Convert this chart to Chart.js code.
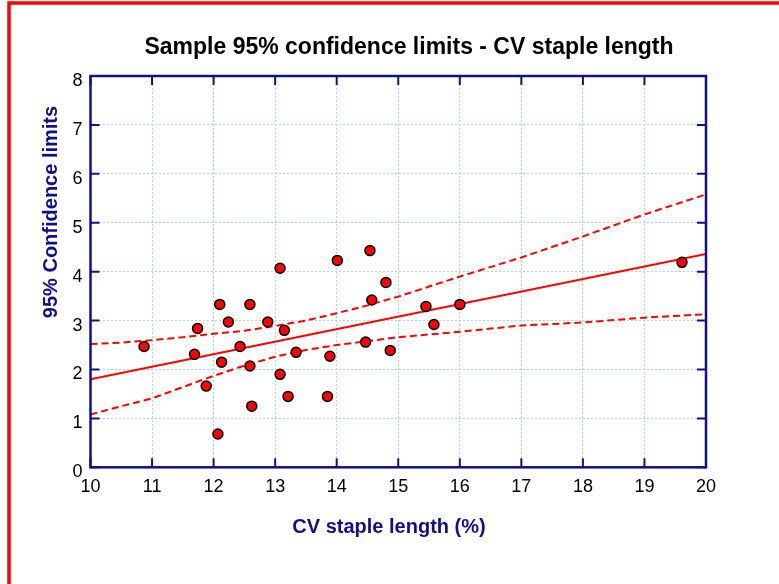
<!DOCTYPE html>
<html>
<head>
<meta charset="utf-8">
<script src="https://cdn.jsdelivr.net/npm/chart.js@4/dist/chart.umd.min.js"></script>
<style>
  body { margin: 0; background: #fff; }
  canvas { display: block; }
</style>
</head>
<body>
<canvas id="cvChart" width="779" height="584"></canvas>
<script>
// CV staple length (%) vs 95% confidence limit, one point per sample
const cvStaple = [10.87, 11.69, 11.74, 11.88, 12.10, 12.24, 12.13, 12.43, 12.07, 12.59,
  12.59, 12.62, 12.88, 13.08, 13.15, 13.08, 13.21, 13.34, 13.85, 13.89,
  14.01, 14.47, 14.54, 14.57, 14.80, 14.87, 15.45, 15.58, 16.00, 19.61];
const confLimit = [2.47, 2.31, 2.84, 1.66, 3.33, 2.97, 2.15, 2.47, 0.68, 3.33,
  2.07, 1.25, 2.97, 4.07, 2.80, 1.90, 1.45, 2.35, 1.45, 2.27,
  4.23, 2.56, 4.43, 3.42, 3.78, 2.39, 3.29, 2.92, 3.33, 4.19];

// regression line
const fitX = [10, 20];
const fitY = [1.80, 4.36];

// confidence band of the fit
const bandX = [10, 10.5, 11, 11.5, 12, 12.5, 13, 13.5, 14, 14.5, 15, 16, 17, 18, 19, 20];
const bandUpper = [2.52, 2.55, 2.60, 2.66, 2.73, 2.79, 2.89, 3.00, 3.15, 3.31, 3.49, 3.90, 4.29, 4.72, 5.17, 5.58];
const bandLower = [1.08, 1.25, 1.41, 1.64, 1.87, 2.08, 2.26, 2.40, 2.50, 2.58, 2.66, 2.77, 2.90, 2.96, 3.06, 3.13];

const xTicks = [10, 11, 12, 13, 14, 15, 16, 17, 18, 19, 20];
const yTicks = [0, 1, 2, 3, 4, 5, 6, 7, 8];

const titleText = "Sample 95% confidence limits - CV staple length";
const xTitle = "CV staple length (%)";
const yTitle = "95% Confidence limits";

const NAVY = "#10108c";
const FONT = '"Liberation Sans", Arial, sans-serif';

const toPoints = (xs, ys) => xs.map((x, i) => ({ x: x, y: ys[i] }));

// frame, inward ticks, texts and the red page border
const decor = {
  id: "decor",
  afterDraw(chart) {
    const ctx = chart.ctx;
    const a = chart.chartArea;
    const xs = chart.scales.x, ys = chart.scales.y;
    ctx.save();

    // red border left + top
    ctx.strokeStyle = "#ff0000";
    ctx.lineWidth = 3.5;
    ctx.beginPath();
    ctx.moveTo(9, 584);
    ctx.lineTo(9, 3);
    ctx.lineTo(779, 3);
    ctx.stroke();

    // axis frame
    ctx.strokeStyle = NAVY;
    ctx.lineWidth = 2.5;
    ctx.strokeRect(a.left, a.top, a.right - a.left, a.bottom - a.top);

    ctx.lineWidth = 2;
    ctx.beginPath();
    xTicks.forEach(v => {
      const px = xs.getPixelForValue(v);
      ctx.moveTo(px, a.bottom); ctx.lineTo(px, a.bottom - 9);
      ctx.moveTo(px, a.top); ctx.lineTo(px, a.top + 9);
    });
    yTicks.forEach(v => {
      const py = ys.getPixelForValue(v);
      ctx.moveTo(a.left, py); ctx.lineTo(a.left + 9, py);
      ctx.moveTo(a.right, py); ctx.lineTo(a.right - 9, py);
    });
    ctx.stroke();

    // titles
    ctx.fillStyle = "#000";
    ctx.textAlign = "center";
    ctx.textBaseline = "alphabetic";
    ctx.font = "bold 23px " + FONT;
    ctx.fillText(titleText, 409, 54);

    ctx.fillStyle = NAVY;
    ctx.font = "bold 20px " + FONT;
    ctx.fillText(xTitle, 389, 533);

    ctx.translate(57, 212);
    ctx.rotate(-Math.PI / 2);
    ctx.fillText(yTitle, 0, 0);
    ctx.restore();
  }
};

new Chart(document.getElementById("cvChart"), {
  type: "scatter",
  data: {
    datasets: [
      {
        label: "Samples",
        data: toPoints(cvStaple, confLimit),
        pointRadius: 5,
        pointBackgroundColor: "#ff0000",
        pointBorderColor: "#000000",
        pointBorderWidth: 1.5,
        order: 0
      },
      {
        label: "Fit",
        data: toPoints(fitX, fitY),
        showLine: true,
        pointRadius: 0,
        borderColor: "#ff0000",
        borderWidth: 2,
        order: 1
      },
      {
        label: "Upper",
        data: toPoints(bandX, bandUpper),
        showLine: true,
        pointRadius: 0,
        borderColor: "#ff0000",
        borderWidth: 2,
        borderDash: [7, 4],
        order: 1
      },
      {
        label: "Lower",
        data: toPoints(bandX, bandLower),
        showLine: true,
        pointRadius: 0,
        borderColor: "#ff0000",
        borderWidth: 2,
        borderDash: [7, 4],
        order: 1
      }
    ]
  },
  options: {
    responsive: false,
    animation: false,
    layout: { padding: { top: 76, right: 73, left: 0, bottom: 0 } },
    plugins: { legend: { display: false }, tooltip: { enabled: false }, title: { display: false } },
    scales: {
      x: {
        type: "linear",
        min: 10, max: 20,
        afterFit: s => { s.height = 116.7; },
        afterBuildTicks: s => { s.ticks = xTicks.map(v => ({ value: v })); },
        ticks: { color: "#000", padding: 9, font: { family: FONT, size: 18 } },
        grid: { color: "#aadada", lineWidth: 1, drawTicks: false },
        border: { display: false, dash: [2, 2] }
      },
      y: {
        type: "linear",
        min: 0, max: 8,
        afterFit: s => { s.width = 90.5; },
        afterBuildTicks: s => { s.ticks = yTicks.map(v => ({ value: v })); },
        ticks: { color: "#000", padding: 8, labelOffset: 5, font: { family: FONT, size: 18 } },
        grid: { color: "#aadada", lineWidth: 1, drawTicks: false },
        border: { display: false, dash: [2, 2] }
      }
    }
  },
  plugins: [decor]
});
</script>
</body>
</html>
